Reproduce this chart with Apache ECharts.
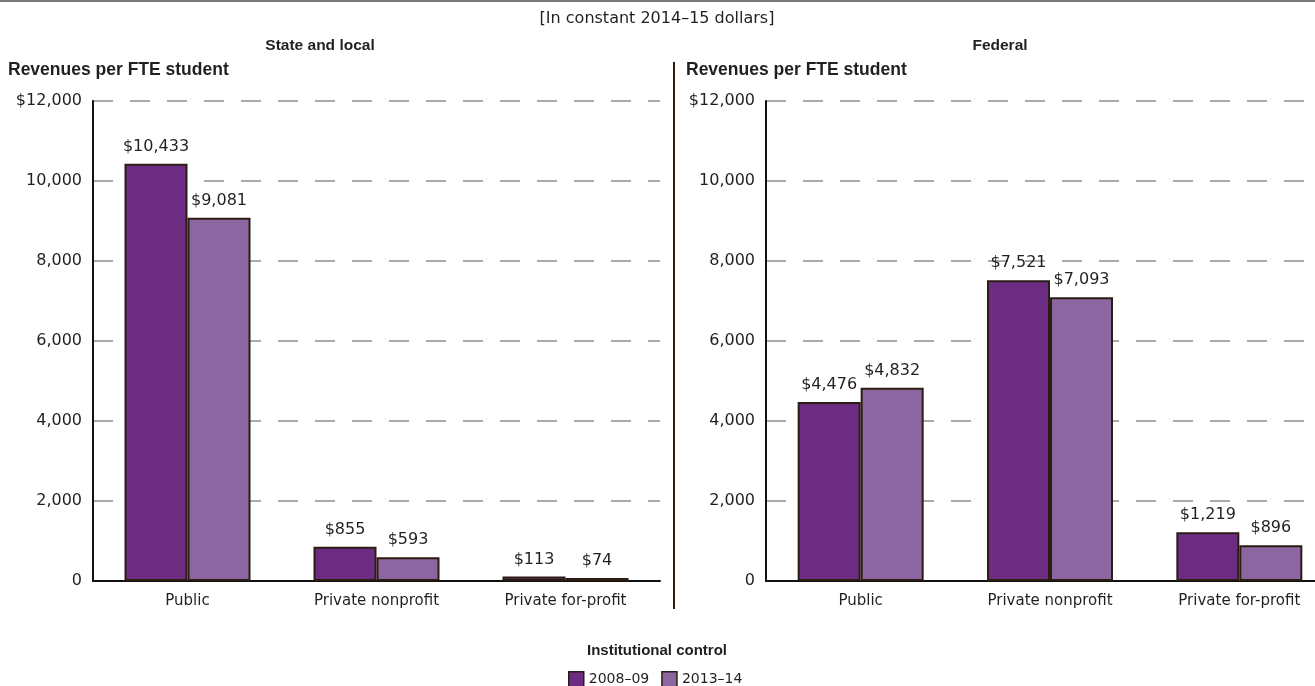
<!DOCTYPE html>
<html><head><meta charset="utf-8">
<script src="https://cdn.jsdelivr.net/npm/echarts@6/dist/echarts.min.js"></script>
<style>html,body{margin:0;padding:0;background:#fff;overflow:hidden;width:1315px;height:686px}#c{width:1334px;height:686px}</style>
</head><body><div id="c"></div>
<script>
const categories = ['Public', 'Private nonprofit', 'Private for-profit'];
const seriesNames = ['2008–09', '2013–14'];
const stateLocal2008 = [10433, 855, 113];
const stateLocal2013 = [9081, 593, 74];
const federal2008 = [4476, 7521, 1219];
const federal2013 = [4832, 7093, 896];
const yTickValues = [0, 2000, 4000, 6000, 8000, 10000, 12000];
const yTickLabels = ['0', '2,000', '4,000', '6,000', '8,000', '10,000', '$12,000'];
const subtitle = '[In constant 2014–15 dollars]';
const panelTitles = ['State and local', 'Federal'];
const yAxisTitle = 'Revenues per FTE student';
const xAxisTitle = 'Institutional control';

const FONT = 'DejaVu Sans';
const BFONT = 'Liberation Sans';
const TXT = '#231f20';
const C1 = '#6b2c82', C2 = '#8c66a0', BORDER = '#2b1d12';

const chart = echarts.init(document.getElementById('c'), null, {renderer: 'canvas'});

function fmtMoney(v) { return '$' + v.toLocaleString('en-US'); }

function xAx(gi) {
  return {
    type: 'category', gridIndex: gi, data: categories,
    axisLine: {lineStyle: {color: '#111', width: 2}},
    axisTick: {show: false},
    axisLabel: {fontFamily: FONT, fontSize: 15, color: TXT, margin: 13}
  };
}
function yAx(gi) {
  return {
    type: 'value', gridIndex: gi, min: 0, max: 12000, interval: 2000,
    axisLine: {show: true, lineStyle: {color: '#111', width: 2}},
    axisTick: {show: false},
    axisLabel: {
      fontFamily: FONT, fontSize: 16, color: TXT, margin: 11,
      formatter: v => yTickLabels[yTickValues.indexOf(v)]
    },
    splitLine: {show: true, lineStyle: {color: '#aaaaaa', width: 2, type: [20, 17]}}
  };
}
function bar(name, data, gi, color) {
  return {
    type: 'bar', name: name, data: data, xAxisIndex: gi, yAxisIndex: gi,
    barWidth: 63, barGap: '0%',
    itemStyle: {color: color, borderColor: BORDER, borderWidth: 2},
    label: {show: true, position: 'top', distance: 9, fontFamily: FONT, fontSize: 16, color: TXT,
      formatter: p => fmtMoney(p.value)},
    emphasis: {disabled: true}
  };
}

chart.setOption({
  animation: false,
  textStyle: {fontFamily: FONT},
  grid: [
    {left: 93, top: 101, width: 567, height: 480},
    {left: 766, top: 101, width: 568, height: 480}
  ],
  xAxis: [xAx(0), xAx(1)],
  yAxis: [yAx(0), yAx(1)],
  legend: {
    data: seriesNames, left: 563, top: 666, itemWidth: 15, itemHeight: 15, itemGap: 12,
    icon: 'rect',
    textStyle: {fontFamily: FONT, fontSize: 14, color: TXT},
    itemStyle: {borderColor: BORDER, borderWidth: 1.5}
  },
  series: [
    bar(seriesNames[0], stateLocal2008, 0, C1),
    bar(seriesNames[1], stateLocal2013, 0, C2),
    bar(seriesNames[0], federal2008, 1, C1),
    bar(seriesNames[1], federal2013, 1, C2)
  ],
  graphic: [
    {type: 'line', shape: {x1: 0, y1: 1, x2: 1334, y2: 1}, style: {stroke: '#777', lineWidth: 2}},
    {type: 'line', shape: {x1: 674, y1: 62, x2: 674, y2: 609}, style: {stroke: BORDER, lineWidth: 2}},
    {type: 'text', x: 657, y: 19, style: {text: subtitle, fontFamily: FONT, fontSize: 16, fill: TXT, align: 'center', verticalAlign: 'middle'}},
    {type: 'text', x: 320, y: 46, style: {text: panelTitles[0], fontFamily: BFONT, fontSize: 15.5, fontWeight: 'bold', fill: TXT, align: 'center', verticalAlign: 'middle'}},
    {type: 'text', x: 1000, y: 46, style: {text: panelTitles[1], fontFamily: BFONT, fontSize: 15.5, fontWeight: 'bold', fill: TXT, align: 'center', verticalAlign: 'middle'}},
    {type: 'text', x: 8, y: 70, style: {text: yAxisTitle, fontFamily: BFONT, fontSize: 17.5, fontWeight: 'bold', fill: TXT, align: 'left', verticalAlign: 'middle'}},
    {type: 'text', x: 686, y: 70, style: {text: yAxisTitle, fontFamily: BFONT, fontSize: 17.5, fontWeight: 'bold', fill: TXT, align: 'left', verticalAlign: 'middle'}},
    {type: 'text', x: 657, y: 651, style: {text: xAxisTitle, fontFamily: BFONT, fontSize: 15, fontWeight: 'bold', fill: TXT, align: 'center', verticalAlign: 'middle'}}
  ]
});
</script></body></html>
